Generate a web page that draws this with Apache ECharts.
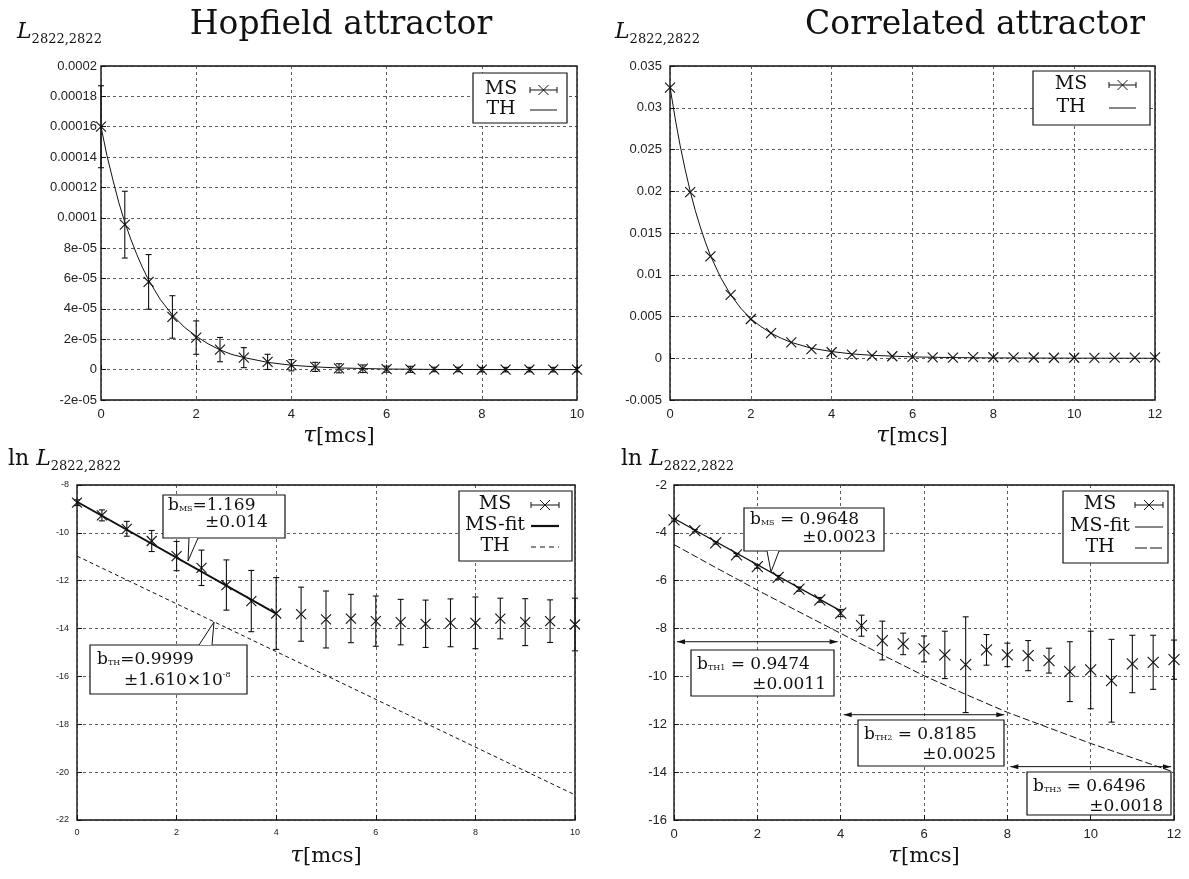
<!DOCTYPE html>
<html>
<head>
<meta charset="utf-8">
<style>
  html, body { margin: 0; background: #fff; }
  #main { width: 1189px; height: 879px; }
</style>
</head>
<body>
<div id="main"></div>
<script src="https://cdn.jsdelivr.net/npm/echarts@6/dist/echarts.min.js"></script>
<script>
// ---- data ----
// Hopfield attractor, linear scale
var hopTau = [0, 0.5, 1, 1.5, 2, 2.5, 3, 3.5, 4, 4.5, 5, 5.5, 6, 6.5, 7, 7.5, 8, 8.5, 9, 9.5, 10];
var hopMS = [1.60e-4, 9.55e-5, 5.78e-5, 3.47e-5, 2.11e-5, 1.32e-5, 7.9e-6, 5.1e-6, 2.9e-6, 1.8e-6, 0.9e-6,
             0.6e-6, 0.3e-6, 0.2e-6, 0.1e-6, 0.1e-6, 0, 0, 0, 0, 0];
var hopErr = [2.7e-5, 2.2e-5, 1.8e-5, 1.4e-5, 1.1e-5, 8e-6, 6.6e-6, 5e-6, 3.7e-6, 3e-6, 3e-6,
              2.5e-6, 2e-6, 2e-6, 1.5e-6, 1.5e-6, 1.5e-6, 1.5e-6, 1.5e-6, 1.5e-6, 1.5e-6];
var hopThTau = [0, 0.125, 0.25, 0.375, 0.5, 0.625, 0.75, 0.875, 1, 1.25, 1.5, 1.75, 2, 2.25, 2.5, 2.75,
                3, 3.5, 4, 4.5, 5, 6, 7, 8, 10];
var hopTh = [1.60e-4, 1.41e-4, 1.25e-4, 1.10e-4, 9.7e-5, 8.6e-5, 7.6e-5, 6.7e-5, 5.9e-5, 4.6e-5, 3.6e-5,
             2.8e-5, 2.2e-5, 1.7e-5, 1.3e-5, 1.0e-5, 8.0e-6, 4.8e-6, 2.9e-6, 1.8e-6, 1.1e-6, 4e-7, 1.5e-7, 5e-8, 0];
var hopYLabels = ['-2e-05', '0', '2e-05', '4e-05', '6e-05', '8e-05', '0.0001', '0.00012', '0.00014', '0.00016', '0.00018', '0.0002'];

// Correlated attractor, linear scale
var corTau = [0, 0.5, 1, 1.5, 2, 2.5, 3, 3.5, 4, 4.5, 5, 5.5, 6, 6.5, 7, 7.5, 8, 8.5, 9, 9.5, 10, 10.5, 11, 11.5, 12];
var corMS = [0.0324, 0.0199, 0.0122, 0.0076, 0.0047, 0.0030, 0.0019, 0.0011, 0.00072, 0.00044, 0.00032, 0.00024,
             0.00016, 0.00011, 0.00008, 0.00014, 0.00012, 0.00011, 0.00009, 0.00006, 0.00006, 0.00004, 0.00008, 0.00008, 0.0001];
var corErr = [0, 0, 0, 0, 0, 0, 0, 0, 0, 0, 0, 0, 0, 0, 0, 0, 0, 0, 0, 0, 0, 0, 0, 0, 0];
var corThTau = [0, 0.125, 0.25, 0.375, 0.5, 0.625, 0.75, 0.875, 1, 1.25, 1.5, 1.75, 2, 2.25, 2.5, 2.75,
                3, 3.5, 4, 4.5, 5, 6, 7, 8, 10, 12];
var corTh = [0.0325, 0.0288, 0.0255, 0.0226, 0.0200, 0.0177, 0.0157, 0.0139, 0.0123, 0.0097, 0.0076, 0.0060,
             0.0047, 0.0038, 0.0030, 0.0024, 0.0019, 0.0012, 0.0008, 0.00052, 0.00035, 0.00016, 0.00008,
             0.00004, 0.00001, 0];
var corYLabels = ['-0.005', '0', '0.005', '0.01', '0.015', '0.02', '0.025', '0.03', '0.035'];

// Hopfield attractor, log scale
var lnHopMS = [-8.74, -9.27, -9.83, -10.34, -10.97, -11.46, -12.18, -12.85, -13.37, -13.40, -13.62,
               -13.58, -13.69, -13.73, -13.80, -13.76, -13.76, -13.58, -13.73, -13.69, -13.83];
var lnHopErr = [0.12, 0.23, 0.31, 0.44, 0.61, 0.74, 1.05, 1.28, 1.5, 1.13, 1.19,
                1.01, 1.05, 0.95, 0.99, 1.0, 1.08, 0.85, 0.98, 0.89, 1.1];
var lnHopFitTau = [0, 4];
var lnHopFit = [-8.7, -13.38];
var lnHopThTau = [0, 10];
var lnHopTh = [-10.97, -20.95];

// Correlated attractor, log scale
var lnCorMS = [-3.46, -3.91, -4.42, -4.92, -5.41, -5.86, -6.35, -6.80, -7.35, -7.88, -8.50, -8.64, -8.85,
               -9.10, -9.51, -8.89, -9.10, -9.13, -9.34, -9.80, -9.73, -10.18, -9.48, -9.41, -9.30];
var lnCorErr = [0.05, 0.05, 0.05, 0.06, 0.07, 0.08, 0.09, 0.1, 0.15, 0.44, 0.81, 0.45, 0.54,
                0.99, 2.0, 0.64, 0.49, 0.63, 0.52, 1.25, 1.62, 1.73, 1.2, 1.13, 0.82];
var lnCorFitTau = [0, 4];
var lnCorFit = [-3.40, -7.26];
var lnCorThTau = [0, 1, 2, 3, 4, 5, 6, 7, 8, 9, 10, 11, 12];
var lnCorTh = [-4.49, -5.45, -6.39, -7.30, -8.20, -9.10, -9.97, -10.75, -11.50, -12.15, -12.80, -13.40, -14.00];
// fitted ranges of b_TH1..3 and the height of their arrows
var thRanges = [[0, 4], [4, 8], [8, 12]];
var thArrowY = [-8.55, -11.6, -13.77];

// ---- chart ----
var SANS = '"Liberation Sans", Arial, sans-serif';
var SERIF = '"DejaVu Serif", serif';
var INK = '#111';

var dom = document.getElementById('main');
var chart = echarts.init(dom, null, {renderer: 'canvas'});

function grid(l, t, w, h) {
    return {left: l, top: t, width: w, height: h, show: true, borderColor: INK, borderWidth: 1.4};
}
var gridLine = {show: true, lineStyle: {type: [3, 3], color: '#333', width: 0.8}};

function xAx(gi, max, fs) {
    return {
        type: 'value', gridIndex: gi, min: 0, max: max, interval: 2,
        axisLine: {show: false},
        axisTick: {show: true, inside: true, length: 5, lineStyle: {color: INK}},
        axisLabel: {fontSize: fs, fontFamily: SANS, color: '#222', margin: 8},
        splitLine: gridLine
    };
}
function yAx(gi, min, max, interval, labels, fs, margin) {
    return {
        type: 'value', gridIndex: gi, min: min, max: max, interval: interval,
        axisLine: {show: false},
        axisTick: {show: true, inside: true, length: 5, lineStyle: {color: INK}},
        axisLabel: {
            fontSize: fs, fontFamily: SANS, color: '#222', margin: margin,
            formatter: function (v) {
                return labels ? labels[Math.round((v - min) / interval)] : String(Math.round(v));
            }
        },
        splitLine: gridLine
    };
}

function msSeries(gi, tau, val, err, half, cap) {
    return {
        type: 'custom', xAxisIndex: gi, yAxisIndex: gi, clip: false, silent: true, z: 5,
        data: tau.map(function (t, i) { return [t, val[i], err[i]]; }),
        encode: {x: 0, y: 1},
        renderItem: function (params, api) {
            var x = api.value(0), y = api.value(1), e = api.value(2);
            var c = api.coord([x, y]);
            var st = {stroke: INK, lineWidth: 1.1};
            var ch = [];
            if (e > 0) {
                var t = api.coord([x, y + e]), b = api.coord([x, y - e]);
                ch.push({type: 'line', shape: {x1: c[0], y1: t[1], x2: c[0], y2: b[1]}, style: st});
                ch.push({type: 'line', shape: {x1: c[0] - cap, y1: t[1], x2: c[0] + cap, y2: t[1]}, style: st});
                ch.push({type: 'line', shape: {x1: c[0] - cap, y1: b[1], x2: c[0] + cap, y2: b[1]}, style: st});
            }
            ch.push({type: 'line', shape: {x1: c[0] - half, y1: c[1] - half, x2: c[0] + half, y2: c[1] + half}, style: st});
            ch.push({type: 'line', shape: {x1: c[0] - half, y1: c[1] + half, x2: c[0] + half, y2: c[1] - half}, style: st});
            return {type: 'group', children: ch};
        }
    };
}
function lineSeries(gi, xs, ys, w, dash) {
    return {
        type: 'line', xAxisIndex: gi, yAxisIndex: gi, silent: true, z: 3,
        data: xs.map(function (x, i) { return [x, ys[i]]; }),
        showSymbol: false, symbol: 'none', smooth: false,
        lineStyle: {color: INK, width: w, type: dash || 'solid'}
    };
}

var option = {
    animation: false,
    backgroundColor: '#fff',
    grid: [grid(101, 66, 476, 334), grid(670, 66, 485, 334), grid(77, 485, 498, 335), grid(674, 485, 500, 335)],
    xAxis: [xAx(0, 10, 13), xAx(1, 12, 13), xAx(2, 10, 9), xAx(3, 12, 13)],
    yAxis: [
        yAx(0, -2e-5, 2e-4, 2e-5, hopYLabels, 13, 4),
        yAx(1, -0.005, 0.035, 0.005, corYLabels, 13, 8),
        yAx(2, -22, -8, 2, null, 9, 8),
        yAx(3, -16, -2, 2, null, 13, 7)
    ],
    series: [
        lineSeries(0, hopThTau, hopTh, 1),
        msSeries(0, hopTau, hopMS, hopErr, 5, 3),
        lineSeries(1, corThTau, corTh, 1),
        msSeries(1, corTau, corMS, corErr, 5, 3),
        lineSeries(2, lnHopThTau, lnHopTh, 1, [4, 3]),
        lineSeries(2, lnHopFitTau, lnHopFit, 2),
        msSeries(2, hopTau, lnHopMS, lnHopErr, 5, 3),
        lineSeries(3, lnCorThTau, lnCorTh, 1, [7, 3]),
        lineSeries(3, lnCorFitTau, lnCorFit, 1.3),
        msSeries(3, corTau, lnCorMS, lnCorErr, 5.5, 3)
    ]
};
chart.setOption(option);

// ---- text, legends and annotations ----
var g = [];
var mctx = document.createElement('canvas').getContext('2d');
function tw(s, font) { mctx.font = font; return mctx.measureText(s).width; }

// parts: [text, size, italic, baselineShift]
function runs(x, base, parts, align) {
    var fonts = parts.map(function (p) { return (p[2] ? 'italic ' : '') + p[1] + 'px ' + SERIF; });
    var widths = parts.map(function (p, i) { return tw(p[0], fonts[i]); });
    var total = widths.reduce(function (a, b) { return a + b; }, 0);
    var cx = align === 'center' ? x - total / 2 : (align === 'right' ? x - total : x);
    parts.forEach(function (p, i) {
        g.push({
            type: 'text', x: cx, y: base + (p[3] || 0) - 0.35 * p[1], z: 100, silent: true,
            style: {text: p[0], font: fonts[i], fill: INK, align: 'left', verticalAlign: 'middle'}
        });
        cx += widths[i];
    });
}
function P(gi, x, y) { return chart.convertToPixel({gridIndex: gi}, [x, y]); }
function seg(x1, y1, x2, y2, w, dash, color) {
    g.push({type: 'line', z: 100, silent: true, shape: {x1: x1, y1: y1, x2: x2, y2: y2},
            style: {stroke: color || INK, lineWidth: w || 1, lineDash: dash || null}});
}
function box(x0, y0, x1, y1) {
    g.push({type: 'rect', z: 99, silent: true, shape: {x: x0, y: y0, width: x1 - x0, height: y1 - y0},
            style: {fill: '#fff', stroke: INK, lineWidth: 1.2}});
}
function pointer(b0, b1, edgeY, tip) {
    g.push({type: 'polygon', z: 100, silent: true, shape: {points: [[b0, edgeY], tip, [b1, edgeY]]},
            style: {fill: '#fff', stroke: null}});
    g.push({type: 'polyline', z: 100, silent: true, shape: {points: [[b0, edgeY], tip, [b1, edgeY]]},
            style: {fill: null, stroke: INK, lineWidth: 1}});
}
function legend(x0, y0, x1, y1, textCx, s0, s1, rows) {
    box(x0, y0, x1, y1);
    rows.forEach(function (r) {
        var y = r[1];
        runs(textCx, y + 6, [[r[0], 19]], 'center');
        if (r[2] === 'ms') {
            var m = (s0 + s1) / 2;
            seg(s0, y, s1, y);
            seg(s0, y - 3, s0, y + 3);
            seg(s1, y - 3, s1, y + 3);
            seg(m - 5, y - 5, m + 5, y + 5);
            seg(m - 5, y + 5, m + 5, y - 5);
        } else if (r[2] === 'thick') {
            seg(s0, y, s1, y, 2.2);
        } else if (r[2] === 'dash') {
            seg(s0, y, s1, y, 1, [5, 4]);
        } else if (r[2] === 'ldash') {
            seg(s0, y, s1, y, 1, [12, 3]);
        } else {
            seg(s0, y, s1, y, 1);
        }
    });
}
function axisTitles(cx, yl, base, xlBase, isLn) {
    var parts = [];
    if (isLn) parts.push(['ln ', 22]);
    parts.push(['L', 22, true], ['2822,2822', 13, false, 4]);
    runs(yl, base, parts, 'left');
    runs(cx, xlBase, [['\u03c4', 23, true], ['[mcs]', 21]], 'center');
}

// titles
runs(341, 37, [['Hopfield attractor', 33]], 'center');
runs(975, 37, [['Correlated attractor', 33]], 'center');

axisTitles(339, 17, 40, 444, false);
axisTitles(912, 615, 40, 444, false);
axisTitles(326, 8, 467, 864, true);
axisTitles(924, 621, 467, 864, true);

legend(473, 73, 567, 123, 501, 530, 557, [['MS', 90, 'ms'], ['TH', 110, 'solid']]);
legend(1033, 71, 1150, 125, 1071, 1109, 1136, [['MS', 85, 'ms'], ['TH', 108, 'solid']]);
legend(459, 491, 572, 561, 495, 531, 559, [['MS', 505, 'ms'], ['MS-fit', 526, 'thick'], ['TH', 547, 'dash']]);
legend(1063, 491, 1168, 563, 1100, 1135, 1163, [['MS', 505, 'ms'], ['MS-fit', 527, 'solid'], ['TH', 548, 'ldash']]);

// Hopfield ln: slope annotations
box(163, 495, 285, 538);
pointer(189, 198, 538, [188, 561]);
runs(168, 512, [['b', 17], ['MS', 8], ['=1.169', 17]], 'left');
runs(205, 529, [['\u00b10.014', 17]], 'left');

box(90, 645, 247, 694);
pointer(199, 212, 645, [214, 622]);
runs(97, 666, [['b', 17], ['TH', 8], ['=0.9999', 17]], 'left');
runs(124, 687, [['\u00b11.610\u00d710', 17], ['-8', 8, false, -9]], 'left');

// Correlated ln: slope annotations
box(744, 508, 884, 551);
pointer(767, 779, 551, [771, 572]);
runs(750, 526, [['b', 17], ['MS', 8], [' = 0.9648', 17]], 'left');
runs(876, 544, [['\u00b10.0023', 17]], 'right');

var thBoxes = [[691, 650, 834, 696], [858, 720, 1004, 766], [1027, 772, 1171, 815]];
var thText = [['TH1', ' = 0.9474', '\u00b10.0011'], ['TH2', ' = 0.8185', '\u00b10.0025'], ['TH3', ' = 0.6496', '\u00b10.0018']];
thBoxes.forEach(function (b, i) {
    box(b[0], b[1], b[2], b[3]);
    runs(b[0] + 6, b[1] + 21, [['b', 17], [thText[i][0], 8], [thText[i][1], 17]], 'left');
    runs(b[2] - 8, b[1] + 41, [[thText[i][2], 17]], 'right');
});

// double-headed arrows over each fitted range
thRanges.forEach(function (r, i) {
    var a = P(3, r[0], thArrowY[i]), b = P(3, r[1], thArrowY[i]);
    var x0 = a[0] + 3, x1 = b[0] - 3, y = a[1];
    seg(x0, y, x1, y, 1);
    g.push({type: 'polygon', z: 100, silent: true, shape: {points: [[x0, y], [x0 + 8, y - 2.5], [x0 + 8, y + 2.5]]}, style: {fill: INK}});
    g.push({type: 'polygon', z: 100, silent: true, shape: {points: [[x1, y], [x1 - 8, y - 2.5], [x1 - 8, y + 2.5]]}, style: {fill: INK}});
});

chart.setOption({graphic: g});
</script>
</body>
</html>
